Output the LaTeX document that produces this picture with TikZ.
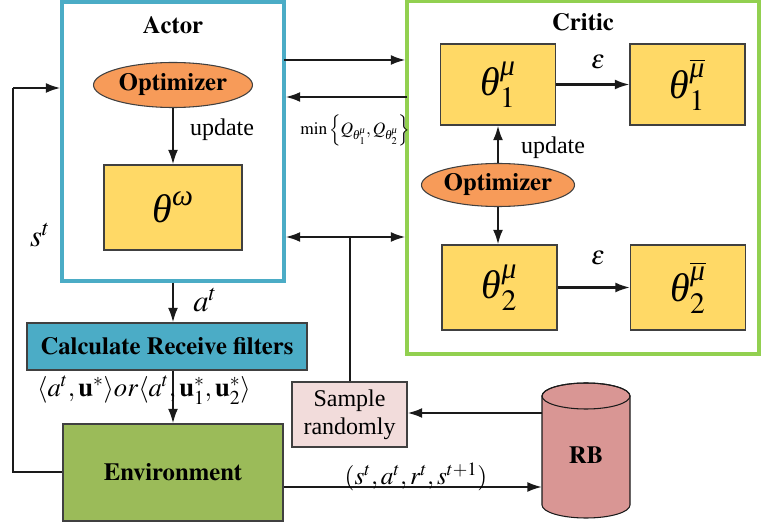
\documentclass[tikz,border=0pt]{standalone}
\usepackage[T1]{fontenc}
\usepackage{mathptmx}
\usepackage{amsmath}
\usepackage{fontspec}
\setmainfont{Liberation Serif}
\usetikzlibrary{arrows.meta,shapes.geometric}

% Times bold (Type 1) for the bold labels
\newcommand\tmsbf{\fontencoding{T1}\fontfamily{ptm}\fontseries{b}\fontshape{n}\selectfont}
% italic Greek letters from the text font
\newcommand\gk[1]{\text{\itshape #1}}

\definecolor{actorblue}{HTML}{4BACC6}
\definecolor{criticgreen}{HTML}{92D050}
\definecolor{paramyellow}{HTML}{FFD966}
\definecolor{optorange}{HTML}{F79B59}
\definecolor{envgreen}{HTML}{9BBB59}
\definecolor{samplepink}{HTML}{F2DCDB}
\definecolor{rbred}{HTML}{D99694}
\definecolor{edgegray}{HTML}{404040}
\definecolor{wire}{HTML}{1A1A1A}

\tikzset{
  txt/.style={font=\fontsize{18}{20}\selectfont, inner sep=0pt},
  boldtxt/.style={font=\fontsize{18.5}{20}\tmsbf, inner sep=0pt},
  panel/.style={draw=#1, line width=2.3pt, fill=none, inner sep=0pt},
  parambox/.style={draw=edgegray, line width=0.8pt, fill=paramyellow, inner sep=0pt,
    font=\fontsize{30}{32}\selectfont},
  optnode/.style={ellipse, draw=edgegray, line width=0.8pt, fill=optorange, inner sep=0pt,
    font=\fontsize{18.5}{20}\tmsbf},
  flatbox/.style={draw=edgegray, line width=0.8pt, inner sep=0pt},
  link/.style={draw=wire, line width=1.6pt, -{Latex[length=11pt,width=7.5pt]}},
  plain/.style={draw=wire, line width=1.6pt},
}

\begin{document}
\begin{tikzpicture}[x=0.75pt, y=-0.75pt]
\useasboundingbox (0,0) rectangle (761,527);

% Actor and Critic panels
\node[panel=actorblue, minimum width=166.5pt, minimum height=209.25pt] (actor) at (173,141.5) {};
\node[panel=criticgreen, minimum width=264pt, minimum height=264.75pt] (critic) at (583,177.5) {};
\node[boldtxt] (actortitle) at (173,25) {Actor};
\node[boldtxt] (critictitle) at (583,22) {Critic};

% Actor internals
\node[optnode, minimum width=119.25pt, minimum height=33.75pt] (aopt) at (173,85) {Optimizer};
\node[parambox, minimum width=103.5pt, minimum height=63.75pt] (aw) at (173,207.5) {$\gk{θ}^{\gk{ω}}$};
\draw[link] (aopt) -- (aw);
\node[txt] (aupd) at (222,130) {update};

% Critic internals
\node[parambox, minimum width=86.25pt, minimum height=60.75pt] (c1) at (498,84.5) {$\gk{θ}_1^{\gk{μ}}$};
\node[parambox, minimum width=86.25pt, minimum height=60.75pt] (c1t) at (687.5,84.5) {$\gk{θ}_1^{\overline{\gk{μ}}}$};
\node[parambox, minimum width=86.25pt, minimum height=63.75pt] (c2) at (499.5,287.5) {$\gk{θ}_2^{\gk{μ}}$};
\node[parambox, minimum width=86.25pt, minimum height=63.75pt] (c2t) at (688,287.5) {$\gk{θ}_2^{\overline{\gk{μ}}}$};
\node[optnode, minimum width=102.75pt, minimum height=32.25pt] (copt) at (498,185) {Optimizer};
\draw[link] (c1) -- (c1t);
\draw[link] (c2) -- (c2t);
\draw[link] (copt.north) -- (c1.south -| copt.north);
\draw[link] (copt.south) -- (c2.north -| copt.south);
\node[txt, font=\fontsize{20}{22}\selectfont] (eps1) at (598,62) {$\varepsilon$};
\node[txt, font=\fontsize{20}{22}\selectfont] (eps2) at (598,258) {$\varepsilon$};
\node[txt] (cupd) at (553,148) {update};

% Actor <-> Critic exchange
\coordinate (ac1) at (284,60);
\coordinate (ac2) at (407,97);
\draw[link] (ac1) -- (ac1 -| critic.west);
\draw[link] (ac2) -- (ac2 -| actor.east);
\node[txt, font=\fontsize{13}{15}\selectfont] (minq) at (355,130)
  {$\min\left\{Q_{\gk{θ}_1^{\gk{μ}}},Q_{\gk{θ}_2^{\gk{μ}}}\right\}$};

% Lower blocks
\node[flatbox, fill=actorblue, minimum width=210pt, minimum height=35.25pt,
  font=\fontsize{18.5}{20}\tmsbf] (calc) at (167,346.5) {Calculate Receive filters};
\node[flatbox, fill=envgreen, minimum width=165pt, minimum height=72.75pt,
  font=\fontsize{18.5}{20}\tmsbf] (env) at (173,472.5) {Environment};
\node[flatbox, fill=samplepink, minimum width=86.25pt, minimum height=48.75pt,
  font=\fontsize{18}{21}\selectfont, align=center] (sample) at (349.5,414.5) {Sample\\randomly};

% Replay buffer cylinder
\filldraw[fill=rbred, draw=wire, line width=0.8pt]
  (542,396) -- (542,505) arc[start angle=180, end angle=0, x radius=44, y radius=13]
  -- (630,396) arc[start angle=0, end angle=-180, x radius=44, y radius=13] -- cycle;
\draw[draw=wire, line width=0.8pt] (586,396) ellipse[x radius=44, y radius=13];
\coordinate (rbw1) at (542,413);
\coordinate (rbw2) at (542,487);
\node[boldtxt] (rb) at (586,455) {RB};

% Flow connectors
\draw[link] (actor.south) -- (calc.north -| actor.south);
\node[txt, font=\fontsize{23}{25}\selectfont] (at) at (205,300) {$a^{t}$};
\draw[link] (calc.south -| env.north) -- (env.north);
\node[txt, font=\fontsize{20}{22}\selectfont] (act) at (144,390)
  {$\langle a^{t},\mathbf{u}^{*}\rangle or\langle a^{t},\mathbf{u}_1^{*},\mathbf{u}_2^{*}\rangle$};

\coordinate (sl1) at (13,472);
\coordinate (sl2) at (13,88);
\draw[plain] (env.west |- sl1) -- (sl1) -- (sl2);
\draw[link] (sl2) -- (sl2 -| actor.west);
\node[txt, font=\fontsize{23}{25}\selectfont] (st) at (40,235) {$s^{t}$};

\coordinate (junc) at (350,237);
\draw[plain] (sample.north -| junc) -- (junc);
\draw[link] (junc) -- (junc -| actor.east);
\draw[link] (junc) -- (junc -| critic.west);

\draw[link] (rbw1) -- (rbw1 -| sample.east);
\draw[link] (env.east |- rbw2) -- (rbw2);
\node[txt, font=\fontsize{19}{21}\selectfont] (tr) at (416,477) {$(s^{t},a^{t},r^{t},s^{t+1})$};
\end{tikzpicture}
\end{document}
